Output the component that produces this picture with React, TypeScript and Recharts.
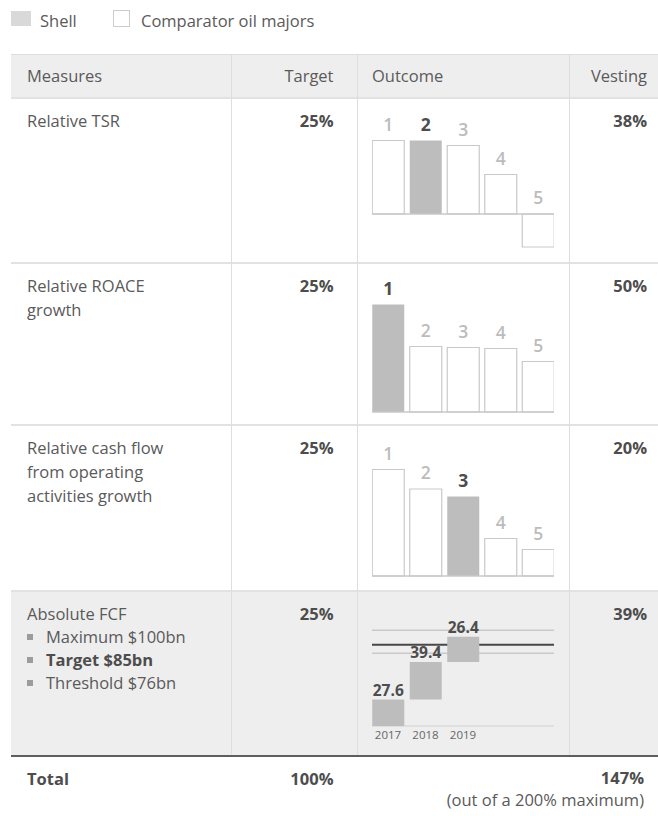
import React from "react";
import { Bar, BarChart, Cell, LabelList, ReferenceLine, XAxis, YAxis } from "recharts";

const legendItems = ["Shell", "Comparator oil majors"];
const headers = ["Measures", "Target", "Outcome", "Vesting"];
const measureLines = [
  ["Relative TSR"],
  ["Relative ROACE", "growth"],
  ["Relative cash flow", "from operating", "activities growth"],
  ["Absolute FCF"],
];
const targets = ["25%", "25%", "25%", "25%"];
const vestings = ["38%", "50%", "20%", "39%"];

const ranks = ["1", "2", "3", "4", "5"];
const tsrOutcome = [14.7, 14.7, 13.7, 7.9, -6.6];
const roaceOutcome = [21.5, 13.1, 12.9, 12.7, 10.1];
const cfoOutcome = [21.3, 17.4, 15.9, 7.5, 5.3];
const shellRanks = ["2", "1", "3"];

const fcfYears = ["2017", "2018", "2019"];
const fcfIncrements = [27.6, 39.4, 26.4];
const fcfLevelNames = ["Maximum $100bn", "Target $85bn", "Threshold $76bn"];
const fcfLevelValues = [100, 85, 76];

const totalLabel = "Total";
const totalTarget = "100%";
const totalVesting = "147%";
const totalNote = "(out of a 200% maximum)";

const FONT = "'Open Sans', sans-serif";
const TEXT = "#5a5a5a";
const DARK = "#4d4d4d";
const SHELL = "#bdbdbd";
const OUTLINE = "#c9c9c9";
const RULE = "#e2e2e2";

// layout (page px)
const ROW_TOPS = [98, 263, 425, 591, 756];
const COL = [230.5, 357, 569];
const PLOT_LEFT = 372;
const PLOT_W = 182;
const EDGE = 2.75;
const PX = 5;

const rankLabel = (shell: string) => (p: any) => {
  const top = Math.min(Number(p.y), Number(p.y) + Number(p.height));
  const isShell = p.value === shell;
  return (
    <text
      x={Number(p.x) + Number(p.width) / 2}
      y={top - 17}
      textAnchor="middle"
      dominantBaseline="central"
      fontSize={17.5}
      fontFamily={FONT}
      fontWeight={isShell ? 700 : 600}
      fill={isShell ? DARK : "#bcbcbc"}
    >
      {p.value}
    </text>
  );
};

function RankChart({ values, shell, baseline, lo, hi }: { values: number[]; shell: string; baseline: number; lo: number; hi: number }) {
  const data = ranks.map((r, i) => ({ rank: r, v: values[i] }));
  return (
    <div style={{ position: "absolute", left: PLOT_LEFT, top: baseline - hi * PX }}>
      <BarChart width={PLOT_W} height={(hi - lo) * PX} data={data} margin={{ top: 0, right: 0, bottom: 0, left: 0 }}>
        <XAxis dataKey="rank" hide padding={{ left: -EDGE, right: -EDGE }} />
        <YAxis hide domain={[lo, hi]} />
        <ReferenceLine y={0} stroke={OUTLINE} strokeWidth={1.5} />
        <Bar dataKey="v" barSize={32} isAnimationActive={false}>
          {data.map((d) => (
            <Cell
              key={d.rank}
              fill={d.rank === shell ? SHELL : "#ffffff"}
              stroke={d.rank === shell ? "none" : OUTLINE}
              strokeWidth={1.2}
            />
          ))}
          <LabelList dataKey="rank" content={rankLabel(shell)} />
        </Bar>
      </BarChart>
    </div>
  );
}

const FCF_PLOT_H = 110;
const FCF_AXIS_H = 22;

function FcfLayer({ data, front }: { data: any[]; front: boolean }) {
  return (
    <div style={{ position: "absolute", left: PLOT_LEFT, top: 726 - FCF_PLOT_H }}>
      <BarChart width={PLOT_W} height={FCF_PLOT_H + FCF_AXIS_H} data={data} margin={{ top: 0, right: 0, bottom: 0, left: 0 }}>
        <XAxis
          dataKey="year"
          height={FCF_AXIS_H}
          padding={{ left: -EDGE, right: 2 * 37.5 - EDGE }}
          axisLine={front ? false : { stroke: "#cfcfcf", strokeWidth: 1.2 }}
          tickLine={false}
          tickSize={0}
          tickMargin={5}
          tick={front ? false : { fill: "#666", fontSize: 11.5, fontFamily: FONT }}
        />
        <YAxis hide domain={[0, 115]} />
        {!front &&
          fcfLevelValues.map((v, i) => (
            <ReferenceLine key={v} y={v} stroke={i === 1 ? "#474747" : OUTLINE} strokeWidth={i === 1 ? 2 : 1.5} />
          ))}
        <Bar dataKey="range" barSize={32} fill={SHELL} fillOpacity={front ? 1 : 0} isAnimationActive={false}>
          {front && (
            <LabelList
              dataKey="delta"
              content={(p: any) => {
                const top = Math.min(Number(p.y), Number(p.y) + Number(p.height));
                return (
                  <text
                    x={Number(p.x) + Number(p.width) / 2}
                    y={top - 10}
                    textAnchor="middle"
                    dominantBaseline="central"
                    fontSize={15.5}
                    fontWeight={700}
                    fontFamily={FONT}
                    fill={DARK}
                  >
                    {Number(p.value).toFixed(1)}
                  </text>
                );
              }}
            />
          )}
        </Bar>
      </BarChart>
    </div>
  );
}

function FcfChart() {
  let run = 0;
  const data = fcfYears.map((year, i) => {
    const start = run;
    run += fcfIncrements[i];
    return { year, range: [start, run], delta: fcfIncrements[i] };
  });
  return (
    <>
      <FcfLayer data={data} front={false} />
      <FcfLayer data={data} front={true} />
    </>
  );
}

const abs = (s: React.CSSProperties): React.CSSProperties => ({ position: "absolute", ...s });

export default function App() {
  const rankRows = [
    { values: tsrOutcome, baseline: 214, lo: -8, hi: 22 },
    { values: roaceOutcome, baseline: 411.7, lo: -1, hi: 28 },
    { values: cfoOutcome, baseline: 575.7, lo: -1, hi: 28 },
  ];
  return (
    <div style={abs({ left: 0, top: 0, width: 658, height: 816, fontFamily: FONT, fontSize: 16.5, color: TEXT, background: "#fff", overflow: "hidden" })}>
      {/* legend */}
      <div style={abs({ left: 11, top: 11, width: 20, height: 15, background: "#d9d9d9" })} />
      <div style={abs({ left: 40, top: 9, lineHeight: "24px" })}>{legendItems[0]}</div>
      <div style={abs({ left: 113, top: 10, width: 15, height: 15, border: "1px solid #cccccc" })} />
      <div style={abs({ left: 141, top: 9, lineHeight: "24px" })}>{legendItems[1]}</div>

      {/* backgrounds and rules */}
      <div style={abs({ left: 11, top: 54, width: 647, height: 44, background: "#eeeeee", borderTop: "1px solid #dddddd" })} />
      <div style={abs({ left: 11, top: ROW_TOPS[3], width: 647, height: ROW_TOPS[4] - ROW_TOPS[3], background: "#eeeeee" })} />
      {ROW_TOPS.slice(0, 4).map((t) => (
        <div key={t} style={abs({ left: 11, top: t - 1, width: 647, height: 2, background: RULE })} />
      ))}
      {COL.map((c) => (
        <div key={c} style={abs({ left: c, top: 54, width: 1, height: ROW_TOPS[4] - 54, background: "#dedede" })} />
      ))}
      <div style={abs({ left: 11, top: ROW_TOPS[4] - 1, width: 647, height: 2, background: "#5e5e5e" })} />

      {/* header */}
      <div style={abs({ left: 27, top: 54, lineHeight: "44px" })}>{headers[0]}</div>
      <div style={abs({ left: COL[0], width: 333.5 - COL[0], top: 54, lineHeight: "44px", textAlign: "right" })}>{headers[1]}</div>
      <div style={abs({ left: 372, top: 54, lineHeight: "44px" })}>{headers[2]}</div>
      <div style={abs({ left: COL[2], width: 647 - COL[2], top: 54, lineHeight: "44px", textAlign: "right" })}>{headers[3]}</div>

      {/* body text */}
      {measureLines.map((lines, r) => (
        <React.Fragment key={r}>
          <div style={abs({ left: 27, top: ROW_TOPS[r] + 11, lineHeight: r === 3 ? "23px" : "24px" })}>
            {lines.map((l) => (
              <div key={l}>{l}</div>
            ))}
            {r === 3 &&
              fcfLevelNames.map((n, i) => (
                <div key={n} style={{ position: "relative", paddingLeft: 19, fontWeight: i === 1 ? 700 : 400, color: i === 1 ? DARK : TEXT }}>
                  <span style={abs({ left: 0, top: 9, width: 6, height: 6, background: "#9c9c9c" })} />
                  {n}
                </div>
              ))}
          </div>
          <div style={abs({ left: COL[0], width: 333.5 - COL[0], top: ROW_TOPS[r] + 11, lineHeight: "24px", textAlign: "right", fontWeight: 700, color: DARK })}>
            {targets[r]}
          </div>
          <div style={abs({ left: COL[2], width: 647 - COL[2], top: ROW_TOPS[r] + 11, lineHeight: "24px", textAlign: "right", fontWeight: 700, color: DARK })}>
            {vestings[r]}
          </div>
        </React.Fragment>
      ))}

      {/* charts */}
      {rankRows.map((row, i) => (
        <RankChart key={i} values={row.values} shell={shellRanks[i]} baseline={row.baseline} lo={row.lo} hi={row.hi} />
      ))}
      <FcfChart />

      {/* total */}
      <div style={abs({ left: 27, top: 767, lineHeight: "24px", fontWeight: 700, color: DARK })}>{totalLabel}</div>
      <div style={abs({ left: COL[0], width: 333.5 - COL[0], top: 767, lineHeight: "24px", textAlign: "right", fontWeight: 700, color: DARK })}>
        {totalTarget}
      </div>
      <div style={abs({ left: 400, width: 644 - 400, top: 767, lineHeight: "22px", textAlign: "right" })}>
        <div style={{ fontWeight: 700, color: DARK }}>{totalVesting}</div>
        <div>{totalNote}</div>
      </div>
    </div>
  );
}
